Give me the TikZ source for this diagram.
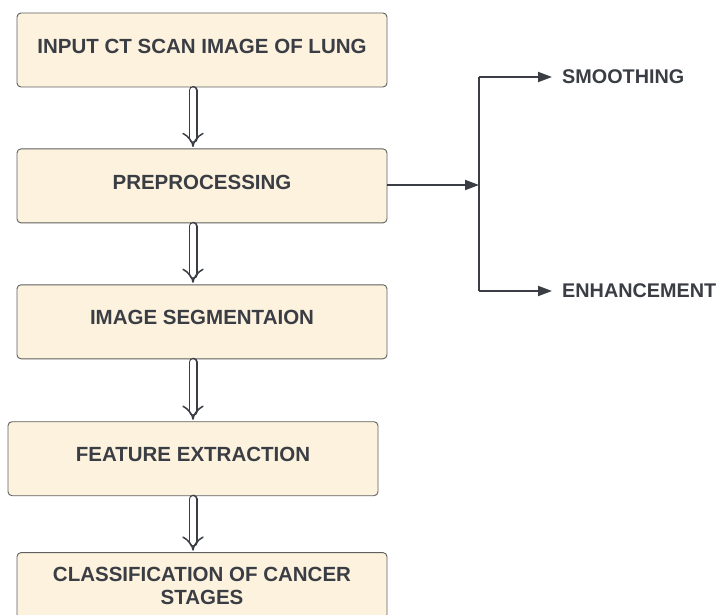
\documentclass[tikz,border=0pt]{standalone}
\usepackage{fontspec}
\setmainfont{Liberation Sans}
\usetikzlibrary{arrows.meta,positioning}
\definecolor{boxfill}{RGB}{252, 242, 221}
\definecolor{boxline}{RGB}{95, 95, 95}
\definecolor{inkgrey}{RGB}{58, 61, 68}

\begin{document}
\begin{tikzpicture}[
    x=1pt, y=-1pt,
    every node/.style={align=center, text=inkgrey, font=\fontsize{20.5}{23}\selectfont\bfseries},
    stage/.style={rectangle, rounded corners=4pt, minimum width=370pt, minimum height=74pt, text centered, text depth=8pt, draw=boxline, fill=boxfill, line width=0.9pt},
    flow/.style={draw=inkgrey, line width=1.5pt, double=white, double distance=6pt, line cap=round, -{Implies[length=5pt]}, shorten >=1.5pt, shorten <=3pt},
    branch/.style={draw=inkgrey, line width=2pt, -{Triangle[length=14pt,width=10pt]}},
    leaf/.style={anchor=west, inner sep=0pt, font=\fontsize{19.8}{23}\selectfont\bfseries}
]
\useasboundingbox (0,0) rectangle (721,615);

% Pipeline stages
\node[stage] (input) at (202,50) {INPUT CT SCAN IMAGE OF LUNG};
\node[stage, below=61pt of input] (prep) {PREPROCESSING};
\node[stage, below=61pt of prep] (seg) {IMAGE SEGMENTAION};
\node[stage, below=62pt of seg, xshift=-9pt] (feat) {FEATURE EXTRACTION};
\node[stage, below=56pt of feat, xshift=9pt] (classify) {CLASSIFICATION OF CANCER\\STAGES};
\coordinate (spine) at (193,0);

% Hollow arrows down the pipeline
\draw[flow] (input.south -| spine) -- (prep.north -| spine);
\draw[flow] (prep.south -| spine) -- (seg.north -| spine);
\draw[flow] (seg.south -| spine) -- (feat.north -| spine);
\draw[flow] (feat.south -| spine) -- (classify.north -| spine);

% Preprocessing branches
\coordinate (fork) at (479,185);
\node[leaf] (smooth) at (562,77) {SMOOTHING};
\node[leaf] (enhance) at (562,291) {ENHANCEMENT};
\draw[branch] (prep.east |- fork) -- (fork);
\draw[branch] (fork |- smooth) -- ([xshift=-10pt]smooth.west);
\draw[branch] (fork |- enhance) -- ([xshift=-10pt]enhance.west);
\draw[draw=inkgrey, line width=2pt] (fork |- smooth) -- (fork |- enhance);

\end{tikzpicture}
\end{document}
